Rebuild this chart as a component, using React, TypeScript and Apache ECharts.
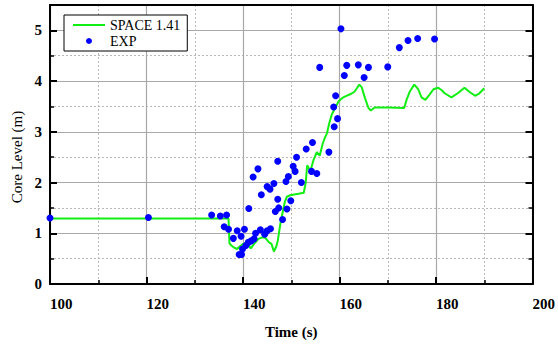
import React, { useEffect, useRef } from 'react';
import * as echarts from 'echarts';

const FONT = "'Times New Roman', 'Liberation Serif', serif";

const xTickValues = [100, 120, 140, 160, 180, 200];
const yTickValues = [0, 1, 2, 3, 4, 5];

const seriesNames = ['SPACE 1.41', 'EXP'];

const spaceTime = [
  100, 137.0, 137.2, 137.6, 138.1, 138.8, 139.3, 140.0, 140.9, 141.6, 142.3, 143.2, 144.0, 144.6,
  145.4, 145.9, 146.4, 146.9, 147.2, 147.8, 148.3, 148.7, 149.1, 149.8, 151.5, 152.6, 153.0, 153.3,
  153.7, 154.0, 154.6, 155.3, 155.9, 156.5, 157.0, 157.4, 157.9, 158.4, 159.1, 159.8, 160.3, 160.8,
  161.2, 162.2, 163.1, 163.6, 164.1, 164.6, 165.3, 166.0, 166.5, 167.0, 167.4, 170.1, 173.4, 173.9,
  174.6, 175.5, 176.3, 177.0, 177.8, 178.7, 179.5, 180.4, 181.2, 181.8, 183.2, 184.5, 185.9, 186.9,
  188.1, 189.0, 190.0,
];
const spaceLevel = [
  1.29, 1.29, 0.8, 0.76, 0.72, 0.69, 0.74, 0.79, 0.82, 0.7, 0.79, 0.89, 0.92, 0.91,
  0.82, 0.79, 0.64, 0.74, 0.85, 1.22, 1.45, 1.63, 1.72, 1.75, 1.78, 1.8, 2.0, 2.34,
  2.27, 2.24, 2.44, 2.6, 2.53, 2.76, 2.89, 2.97, 3.18, 3.34, 3.47, 3.6, 3.64, 3.68,
  3.7, 3.74, 3.79, 3.86, 3.93, 3.88, 3.66, 3.47, 3.42, 3.46, 3.48, 3.48, 3.47, 3.63,
  3.8, 3.93, 3.84, 3.68, 3.63, 3.74, 3.84, 3.87, 3.82, 3.76, 3.68, 3.76, 3.87, 3.79,
  3.71, 3.76, 3.86,
];

const expTime = [
  100, 120.4, 133.5, 135.3, 136.6, 136.1, 137.0, 138.0, 138.8, 139.6, 140.3, 139.2, 139.7, 139.9,
  140.6, 141.1, 141.7, 142.3, 142.6, 143.6, 144.5, 145.0, 145.7, 141.2, 143.8, 145.0, 145.6, 146.4,
  142.1, 143.1, 147.2, 149.9, 146.7, 147.4, 149.1, 148.2, 148.9, 149.4, 152.1, 147.2, 150.4, 150.8,
  153.1, 154.4, 157.8, 151.1, 154.2, 155.3, 158.9, 159.6, 158.8, 159.2, 155.9, 161.0, 161.5, 163.9,
  166.0, 165.1, 170.0, 160.3, 172.4, 174.2, 176.2, 179.7,
];
const expLevel = [
  1.3, 1.31, 1.36, 1.34, 1.36, 1.13, 1.08, 0.9, 1.05, 0.94, 1.08, 0.58, 0.58, 0.69,
  0.76, 0.82, 0.85, 0.89, 1.0, 1.07, 0.98, 1.05, 1.09, 1.49, 1.76, 1.92, 1.87, 1.98,
  2.11, 2.27, 1.67, 1.64, 1.43, 1.5, 1.48, 1.27, 2.02, 2.12, 2.0, 2.42, 2.32, 2.22,
  2.66, 2.79, 2.6, 2.5, 2.22, 2.18, 3.1, 3.26, 3.49, 3.71, 4.27, 4.11, 4.31, 4.32,
  4.27, 4.07, 4.28, 5.03, 4.66, 4.8, 4.84, 4.83,
];

export default function App() {
  const ref = useRef<HTMLDivElement>(null);
  useEffect(() => {
    if (!ref.current) return;
    const chart = echarts.init(ref.current, null, { renderer: 'svg' });
    const xMin = xTickValues[0];
    const xMax = xTickValues[xTickValues.length - 1];
    const xInt = xTickValues[1] - xTickValues[0];
    const yInt = yTickValues[1] - yTickValues[0];
    const lineData = spaceTime.map((t, i) => [t, spaceLevel[i]]);
    const expData = expTime.map((t, i) => [t, expLevel[i]]);
    const majorSplit = { show: true, lineStyle: { color: '#a8a8a8', width: 1.2 } };
    const minorSplit = { show: true, lineStyle: { color: '#b8b8b8', width: 1, type: [2, 2] } };
    const labelStyle = { fontFamily: FONT, fontWeight: 'bold', fontSize: 15, color: '#000' };
    chart.setOption({
      animation: false,
      backgroundColor: '#fff',
      grid: { left: 50, right: 23, top: 5, bottom: 55, containLabel: false },
      legend: {
        data: [
          { name: seriesNames[0], icon: 'path://M0,0L32,0L32,2L0,2Z' },
          { name: seriesNames[1], icon: 'circle' },
        ],
        orient: 'vertical',
        left: 64,
        top: 15,
        itemWidth: 32,
        itemHeight: 6,
        itemGap: 2,
        symbolKeepAspect: true,
        padding: [3, 7, 3, 9],
        borderColor: '#000',
        borderWidth: 1,
        borderRadius: 0,
        backgroundColor: '#fff',
        textStyle: { fontFamily: FONT, fontSize: 14, color: '#000' },
      },
      xAxis: [
        {
          type: 'value',
          min: xMin,
          max: xMax,
          interval: xInt,
          position: 'bottom',
          axisLine: { show: true, onZero: false, lineStyle: { color: '#000', width: 2 } },
          axisTick: { show: true, inside: true, length: 7, lineStyle: { color: '#000', width: 2 } },
          minorTick: { show: true, splitNumber: 2, length: 4, lineStyle: { color: '#000', width: 1.5 } },
          splitLine: majorSplit,
          minorSplitLine: minorSplit,
          axisLabel: { ...labelStyle, align: 'left', margin: 12 },
          name: 'Time (s)',
          nameLocation: 'middle',
          nameGap: 40,
          nameTextStyle: { fontFamily: FONT, fontWeight: 'bold', fontSize: 15, color: '#000' },
        },
        {
          type: 'value',
          min: xMin,
          max: xMax,
          interval: xInt,
          position: 'top',
          axisLine: { show: true, onZero: false, lineStyle: { color: '#000', width: 2 } },
          axisTick: { show: false },
          axisLabel: { show: false },
          splitLine: { show: false },
        },
      ],
      yAxis: [
        {
          type: 'value',
          min: 0,
          max: 5.5,
          interval: yInt,
          position: 'left',
          axisLine: { show: true, onZero: false, lineStyle: { color: '#000', width: 2 } },
          axisTick: { show: true, inside: true, length: 7, lineStyle: { color: '#000', width: 2 } },
          minorTick: { show: true, splitNumber: 2, length: 4, lineStyle: { color: '#000', width: 1.5 } },
          splitLine: majorSplit,
          minorSplitLine: minorSplit,
          axisLabel: { ...labelStyle, margin: 8, showMaxLabel: false },
        },
        {
          type: 'value',
          min: 0,
          max: 5.5,
          interval: yInt,
          position: 'right',
          axisLine: { show: true, onZero: false, lineStyle: { color: '#000', width: 2 } },
          axisTick: { show: true, inside: true, length: 7, lineStyle: { color: '#000', width: 2 } },
          minorTick: { show: true, splitNumber: 2, length: 4, lineStyle: { color: '#000', width: 1.5 } },
          axisLabel: { show: false },
          splitLine: { show: false },
        },
      ],
      graphic: [
        {
          type: 'text',
          x: 17,
          y: 157,
          rotation: Math.PI / 2,
          style: {
            text: 'Core Level (m)',
            fontFamily: FONT,
            fontSize: 15,
            fill: '#000',
            align: 'center',
            verticalAlign: 'middle',
          },
        },
      ],
      series: [
        {
          name: seriesNames[0],
          type: 'line',
          xAxisIndex: 0,
          yAxisIndex: 0,
          data: lineData,
          symbol: 'none',
          showSymbol: false,
          lineStyle: { color: '#11ee11', width: 2 },
          itemStyle: { color: '#11ee11' },
          z: 3,
        },
        {
          name: seriesNames[1],
          type: 'scatter',
          xAxisIndex: 0,
          yAxisIndex: 0,
          data: expData,
          symbol: 'circle',
          symbolSize: 7,
          itemStyle: { color: '#0000ff', opacity: 1 },
          z: 4,
        },
      ],
    });
    return () => chart.dispose();
  }, []);
  return (
    <div
      ref={ref}
      style={{ position: 'fixed', left: 0, top: 0, width: 558, height: 344, background: '#fff' }}
    />
  );
}
